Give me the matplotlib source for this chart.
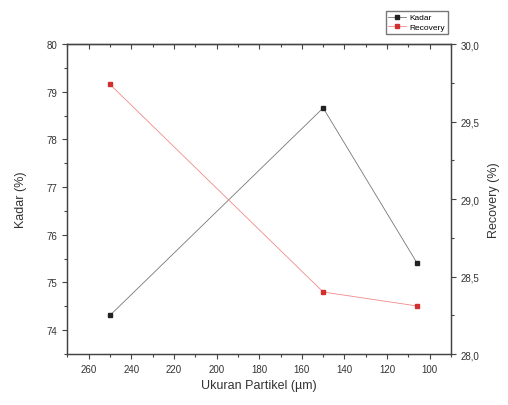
import numpy as np
import matplotlib
matplotlib.use("Agg")
from matplotlib import pyplot as plt
from matplotlib.ticker import MultipleLocator, FuncFormatter

plt.rcParams['font.family'] = ['Liberation Sans', 'DejaVu Sans']

ukuran = [250, 150, 106]
kadar = [74.31, 78.66, 75.41]
recovery = [29.74, 28.40, 28.31]

fig = plt.figure(figsize=(5.08, 4.06), dpi=100)
ax = fig.add_axes([0.1325, 0.1256, 0.7555, 0.7634])
ax2 = ax.twinx()

l1, = ax.plot(ukuran, kadar, color='#777777', lw=0.6, marker='s', ms=3.5,
              mfc='#222222', mec='#222222', label='Kadar')
l2, = ax2.plot(ukuran, recovery, color='#f28a8a', lw=0.6, marker='s', ms=3.5,
               mfc='#d03030', mec='#d03030', label='Recovery')

ax.set_xlim(270, 90)
ax.set_ylim(73.5, 80)
ax2.set_ylim(28.0, 30.0)

ax.xaxis.set_major_locator(MultipleLocator(20))
ax.xaxis.set_minor_locator(MultipleLocator(10))
ax.yaxis.set_major_locator(MultipleLocator(1))
ax.yaxis.set_minor_locator(MultipleLocator(0.5))
ax2.yaxis.set_major_locator(MultipleLocator(0.5))
ax2.yaxis.set_minor_locator(MultipleLocator(0.25))
ax2.yaxis.set_major_formatter(FuncFormatter(lambda v, p: f"{v:.1f}".replace('.', ',')))

for a in (ax, ax2):
    for s in a.spines.values():
        s.set_color('#444444')
        s.set_linewidth(0.9)
    a.tick_params(which='both', direction='out', color='#444444', width=0.8,
                  labelsize=7, labelcolor='#333333')
    a.tick_params(which='major', length=3.5)
    a.tick_params(which='minor', length=2)

# top axis: ticks pointing inward, no labels
top = ax.secondary_xaxis('top')
top.xaxis.set_major_locator(MultipleLocator(20))
top.xaxis.set_minor_locator(MultipleLocator(10))
top.tick_params(which='both', direction='in', color='#444444', width=0.8,
                labeltop=False)
top.tick_params(which='major', length=3.5)
top.tick_params(which='minor', length=2)
top.spines['top'].set_color('#444444')
top.spines['top'].set_linewidth(0.9)

ax.set_xlabel('Ukuran Partikel (µm)', fontsize=9, color='#333333', labelpad=4)
ax.set_ylabel('Kadar (%)', fontsize=9, color='#333333', labelpad=14)
ax2.set_ylabel('Recovery (%)', fontsize=9, color='#333333', labelpad=6)

fig.legend(handles=[l1, l2], loc='upper right', bbox_to_anchor=(452 / 508, 1 - 8 / 406),
           fontsize=6, frameon=True, fancybox=False, edgecolor='#555555',
           borderpad=0.3, labelspacing=0.2, handlelength=2.2, handletextpad=0.4)

fig.savefig('out.png', dpi=100)
